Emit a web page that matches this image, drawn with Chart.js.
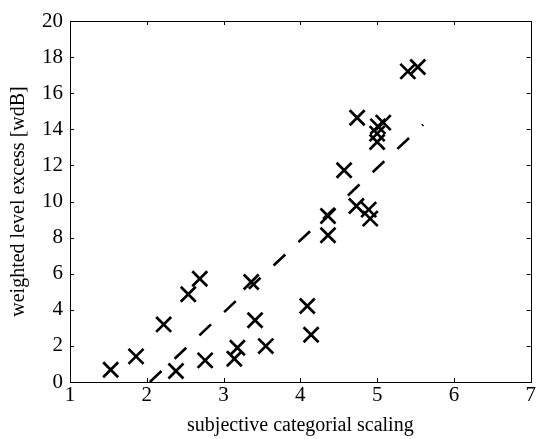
<!DOCTYPE html>
<html>
<head>
<meta charset="utf-8">
<script src="https://cdn.jsdelivr.net/npm/chart.js@4.4.1/dist/chart.umd.min.js"></script>
<style>
  html, body { margin: 0; padding: 0; background: #ffffff; }
  #wrap { width: 544px; height: 439px; }
</style>
</head>
<body>
<div id="wrap"><canvas id="c" width="544" height="439"></canvas></div>
<script>
// Data
const scalingX = [1.53, 1.86, 2.22, 2.54, 2.69, 2.38, 2.76, 3.14, 3.18, 3.36, 3.41, 3.55, 4.09, 4.14,
                  4.36, 4.36, 4.57, 4.74, 4.73, 4.89, 4.91, 5.00, 5.00, 5.01, 5.08, 5.40, 5.53];
const excessY  = [0.68, 1.42, 3.19, 4.86, 5.72, 0.61, 1.20, 1.29, 1.90, 5.54, 3.42, 1.99, 4.21, 2.62,
                  9.20, 8.13, 11.73, 14.64, 9.75, 9.55, 9.05, 13.30, 13.76, 14.16, 14.37, 17.21, 17.45];
const fitX = [2.04, 5.60];
const fitY = [0.0, 14.26];
const xTickValues = [1, 2, 3, 4, 5, 6, 7];
const yTickValues = [0, 2, 4, 6, 8, 10, 12, 14, 16, 18, 20];
const xTitle = 'subjective categorial scaling';
const yTitle = 'weighted level excess [wdB]';

const FONT = "'Liberation Serif', 'Times New Roman', serif";
Chart.defaults.font.family = FONT;
Chart.defaults.color = '#000';

const boxTicks = {
  id: 'boxTicks',
  afterDraw(chart) {
    const {ctx, chartArea: a, scales: {x, y}} = chart;
    ctx.save();
    ctx.strokeStyle = '#000';
    ctx.lineWidth = 1;
    ctx.strokeRect(Math.round(a.left) + 0.5, Math.round(a.top) + 0.5,
                   Math.round(a.right - a.left), Math.round(a.bottom - a.top));
    const L = 4;
    ctx.beginPath();
    x.ticks.forEach(t => {
      const px = Math.round(x.getPixelForValue(t.value)) + 0.5;
      ctx.moveTo(px, a.bottom); ctx.lineTo(px, a.bottom - L);
      ctx.moveTo(px, a.top); ctx.lineTo(px, a.top + L);
    });
    y.ticks.forEach(t => {
      const py = Math.round(y.getPixelForValue(t.value)) + 0.5;
      ctx.moveTo(a.left, py); ctx.lineTo(a.left + L, py);
      ctx.moveTo(a.right, py); ctx.lineTo(a.right - L, py);
    });
    ctx.stroke();
    ctx.restore();
  }
};

new Chart(document.getElementById('c'), {
  type: 'scatter',
  data: {
    datasets: [
      {
        data: scalingX.map((v, i) => ({x: v, y: excessY[i]})),
        pointStyle: 'crossRot',
        pointRadius: 10.6,
        pointHoverRadius: 10.6,
        pointBorderWidth: 2.7,
        borderColor: '#000',
        backgroundColor: '#000',
        showLine: false
      },
      {
        data: fitX.map((v, i) => ({x: v, y: fitY[i]})),
        showLine: true,
        pointRadius: 0,
        borderColor: '#000',
        borderWidth: 2.6,
        borderDash: [16, 18],
        borderCapStyle: 'butt',
        fill: false
      }
    ]
  },
  options: {
    responsive: false,
    animation: false,
    devicePixelRatio: 1,
    layout: { padding: { left: 0, top: 21, right: 6, bottom: 0 } },
    plugins: { legend: { display: false }, tooltip: { enabled: false } },
    scales: {
      x: {
        type: 'linear', min: 1, max: 7,
        afterBuildTicks: s => { s.ticks = xTickValues.map(v => ({value: v})); },
        afterFit: s => { s.height = 57; },
        ticks: { color: '#000', font: { family: FONT, size: 21 }, padding: 1, maxRotation: 0 },
        grid: { display: false, drawTicks: false },
        border: { display: false },
        title: { display: true, text: xTitle, color: '#000', font: { family: FONT, size: 20 },
                 padding: { top: 0, bottom: 1 } }
      },
      y: {
        type: 'linear', min: 0, max: 20,
        afterBuildTicks: s => { s.ticks = yTickValues.map(v => ({value: v})); },
        afterFit: s => { s.width = 70; },
        ticks: { color: '#000', font: { family: FONT, size: 21 }, padding: 7 },
        grid: { display: false, drawTicks: false },
        border: { display: false },
        title: { display: true, text: yTitle, color: '#000', font: { family: FONT, size: 20 },
                 padding: { top: 7, bottom: 0 } }
      }
    }
  },
  plugins: [boxTicks]
});
</script>
</body>
</html>
